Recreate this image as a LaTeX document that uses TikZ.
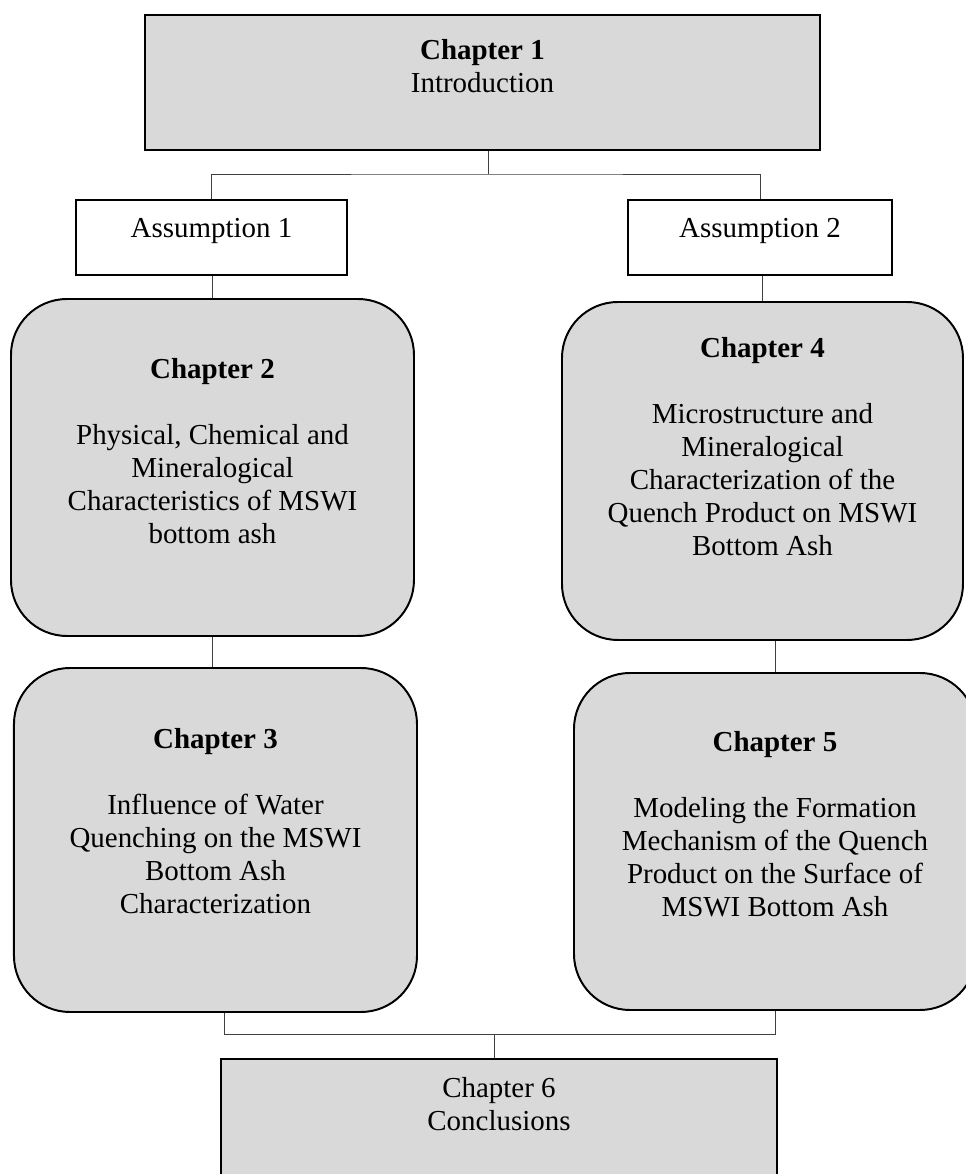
\documentclass[tikz,border=0pt]{standalone}
\usepackage{fontspec}
\setmainfont{Liberation Serif}
\usetikzlibrary{calc}
\definecolor{boxgray}{HTML}{D9D9D9}

\begin{document}
\begin{tikzpicture}[line width=1.4pt, font=\fontsize{20.6}{23.5}\selectfont,
    chapbox/.style={draw, fill=boxgray, anchor=north west, inner sep=0pt},
    roundbox/.style={chapbox, rounded corners=1.4cm},
    assbox/.style={draw, fill=white, anchor=north west, inner sep=0pt},
    txt/.style={anchor=north, align=center, inner sep=0pt},
    link/.style={line width=0.7pt, black!75}]
  \useasboundingbox (0,0) rectangle (24.125,-29.35);
  % ================================================================ introduction and assumptions
  \node[chapbox, minimum width=16.875cm, minimum height=3.375cm] (ch1) at (3.6,-0.35) {};
  \node[txt] (ch1t) at ([yshift=-0.6cm]ch1.north) {\textbf{Chapter 1}\\Introduction};
  \node[assbox, minimum width=6.775cm, minimum height=1.875cm] (as1) at (1.875,-4.975) {};
  \node[txt] (as1t) at ([yshift=-0.45cm]as1.north) {Assumption 1};
  \node[assbox, minimum width=6.6cm, minimum height=1.875cm] (as2) at (15.675,-4.975) {};
  \node[txt] (as2t) at ([yshift=-0.45cm]as2.north) {Assumption 2};
  % ================================================================ left branch
  \node[roundbox, minimum width=10.075cm, minimum height=8.425cm] (ch2) at (0.25,-7.45) {};
  \node[txt] (ch2t) at ([yshift=-1.475cm]ch2.north) {\textbf{Chapter 2}\\[0.825cm]Physical, Chemical and\\Mineralogical\\Characteristics of MSWI\\bottom ash};
  \node[roundbox, minimum width=10.075cm, minimum height=8.6cm] (ch3) at (0.325,-16.675) {};
  \node[txt] (ch3t) at ([yshift=-1.5cm]ch3.north) {\textbf{Chapter 3}\\[0.825cm]Influence of Water\\Quenching on the MSWI\\Bottom Ash\\Characterization};
  % ================================================================ right branch
  \node[roundbox, minimum width=10.025cm, minimum height=8.45cm] (ch4) at (14.025,-7.525) {};
  \node[txt] (ch4t) at ([yshift=-0.875cm]ch4.north) {\textbf{Chapter 4}\\[0.825cm]Microstructure and\\Mineralogical\\Characterization of the\\Quench Product on MSWI\\Bottom Ash};
  \node[roundbox, minimum width=10.05cm, minimum height=8.425cm] (ch5) at (14.325,-16.8) {};
  \node[txt] (ch5t) at ([yshift=-1.45cm]ch5.north) {\textbf{Chapter 5}\\[0.825cm]Modeling the Formation\\Mechanism of the Quench\\Product on the Surface of\\MSWI Bottom Ash};
  % ================================================================ conclusions
  \node[chapbox, minimum width=13.9cm, minimum height=3.375cm] (ch6) at (5.5,-26.45) {};
  \node[txt] (ch6t) at ([yshift=-0.45cm]ch6.north) {Chapter 6\\Conclusions};
  % connectors
  \coordinate (jtop) at (12.2,-4.35);
  \coordinate (jbot) at (12.35,-25.85);
  \draw[link] (ch1.south -| jtop) -- (jtop);
  \draw[link] (as1.north) |- (jtop) -| (as2.north);
  \draw[link] (as1.south -| ch2.north) -- (ch2.north);
  \draw[link] (as2.south -| ch4.north) -- (ch4.north);
  \draw[link] (ch2.south) -- (ch2.south |- ch3.north);
  \draw[link] (ch4.south -| ch5.north) -- (ch5.north);
  \draw[link] ([xshift=0.225cm]ch3.south) |- (jbot) -| (ch5.south);
  \draw[link] (jbot) -- (jbot |- ch6.north);
\end{tikzpicture}
\end{document}
